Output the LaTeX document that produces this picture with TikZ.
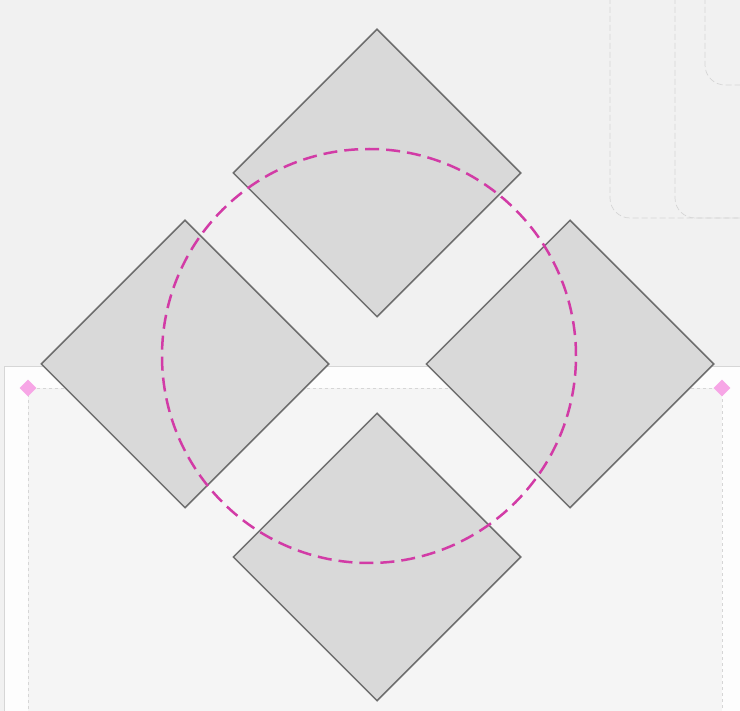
\documentclass[tikz,border=0pt]{standalone}
\usetikzlibrary{shapes.geometric}
\definecolor{bgc}{HTML}{F1F1F1}
\definecolor{panelc}{HTML}{FDFDFD}
\definecolor{innerc}{HTML}{F5F5F5}
\definecolor{faint}{HTML}{D6D6D6}
\definecolor{sqfill}{HTML}{D9D9D9}
\definecolor{sqdraw}{HTML}{6E6E6E}
\definecolor{ringc}{HTML}{D23BA6}
\definecolor{pinkc}{HTML}{F7A6E6}
\tikzset{
  sq/.style={diamond, draw=sqdraw, fill=sqfill, line width=1.5pt, minimum width=288pt, minimum height=288pt, inner sep=0pt, aspect=1},
  handle/.style={diamond, fill=pinkc, minimum width=17pt, minimum height=17pt, inner sep=0pt},
  faintbox/.style={draw=faint, dashed, dash pattern=on 6pt off 3pt, line width=0.7pt, rounded corners=20pt}
}
\begin{document}
\begin{tikzpicture}[x=1pt,y=-1pt]
\useasboundingbox (0,0) rectangle (740,711);
\fill[bgc] (0,0) rectangle (740,711);
% faint rounded frames top right
\draw[faintbox] (610,-20) -- (610,218) -- (760,218);
\draw[faintbox] (675,-20) -- (675,218) -- (760,218);
\draw[faintbox] (705,-20) -- (705,85) -- (760,85);
% lower panel
\draw[fill=panelc, draw=faint, line width=0.7pt] (4,366) rectangle (745,720);
\draw[fill=innerc, draw=faint, dashed, line width=0.7pt] (28,388) rectangle (722,720);
\node[handle] (h1) at (28,388) {};
\node[handle] (h2) at (722,388) {};
% diamonds
\node[sq] (top) at (377,173) {};
\node[sq] (left) at (185,364) {};
\node[sq] (right) at (570,364) {};
\node[sq] (bottom) at (377,557) {};
% ring
\node[circle, draw=ringc, dashed, dash pattern=on 14pt off 7pt, line width=2.5pt, minimum size=414pt, inner sep=0pt] (ring) at (369,356) {};
\end{tikzpicture}
\end{document}
